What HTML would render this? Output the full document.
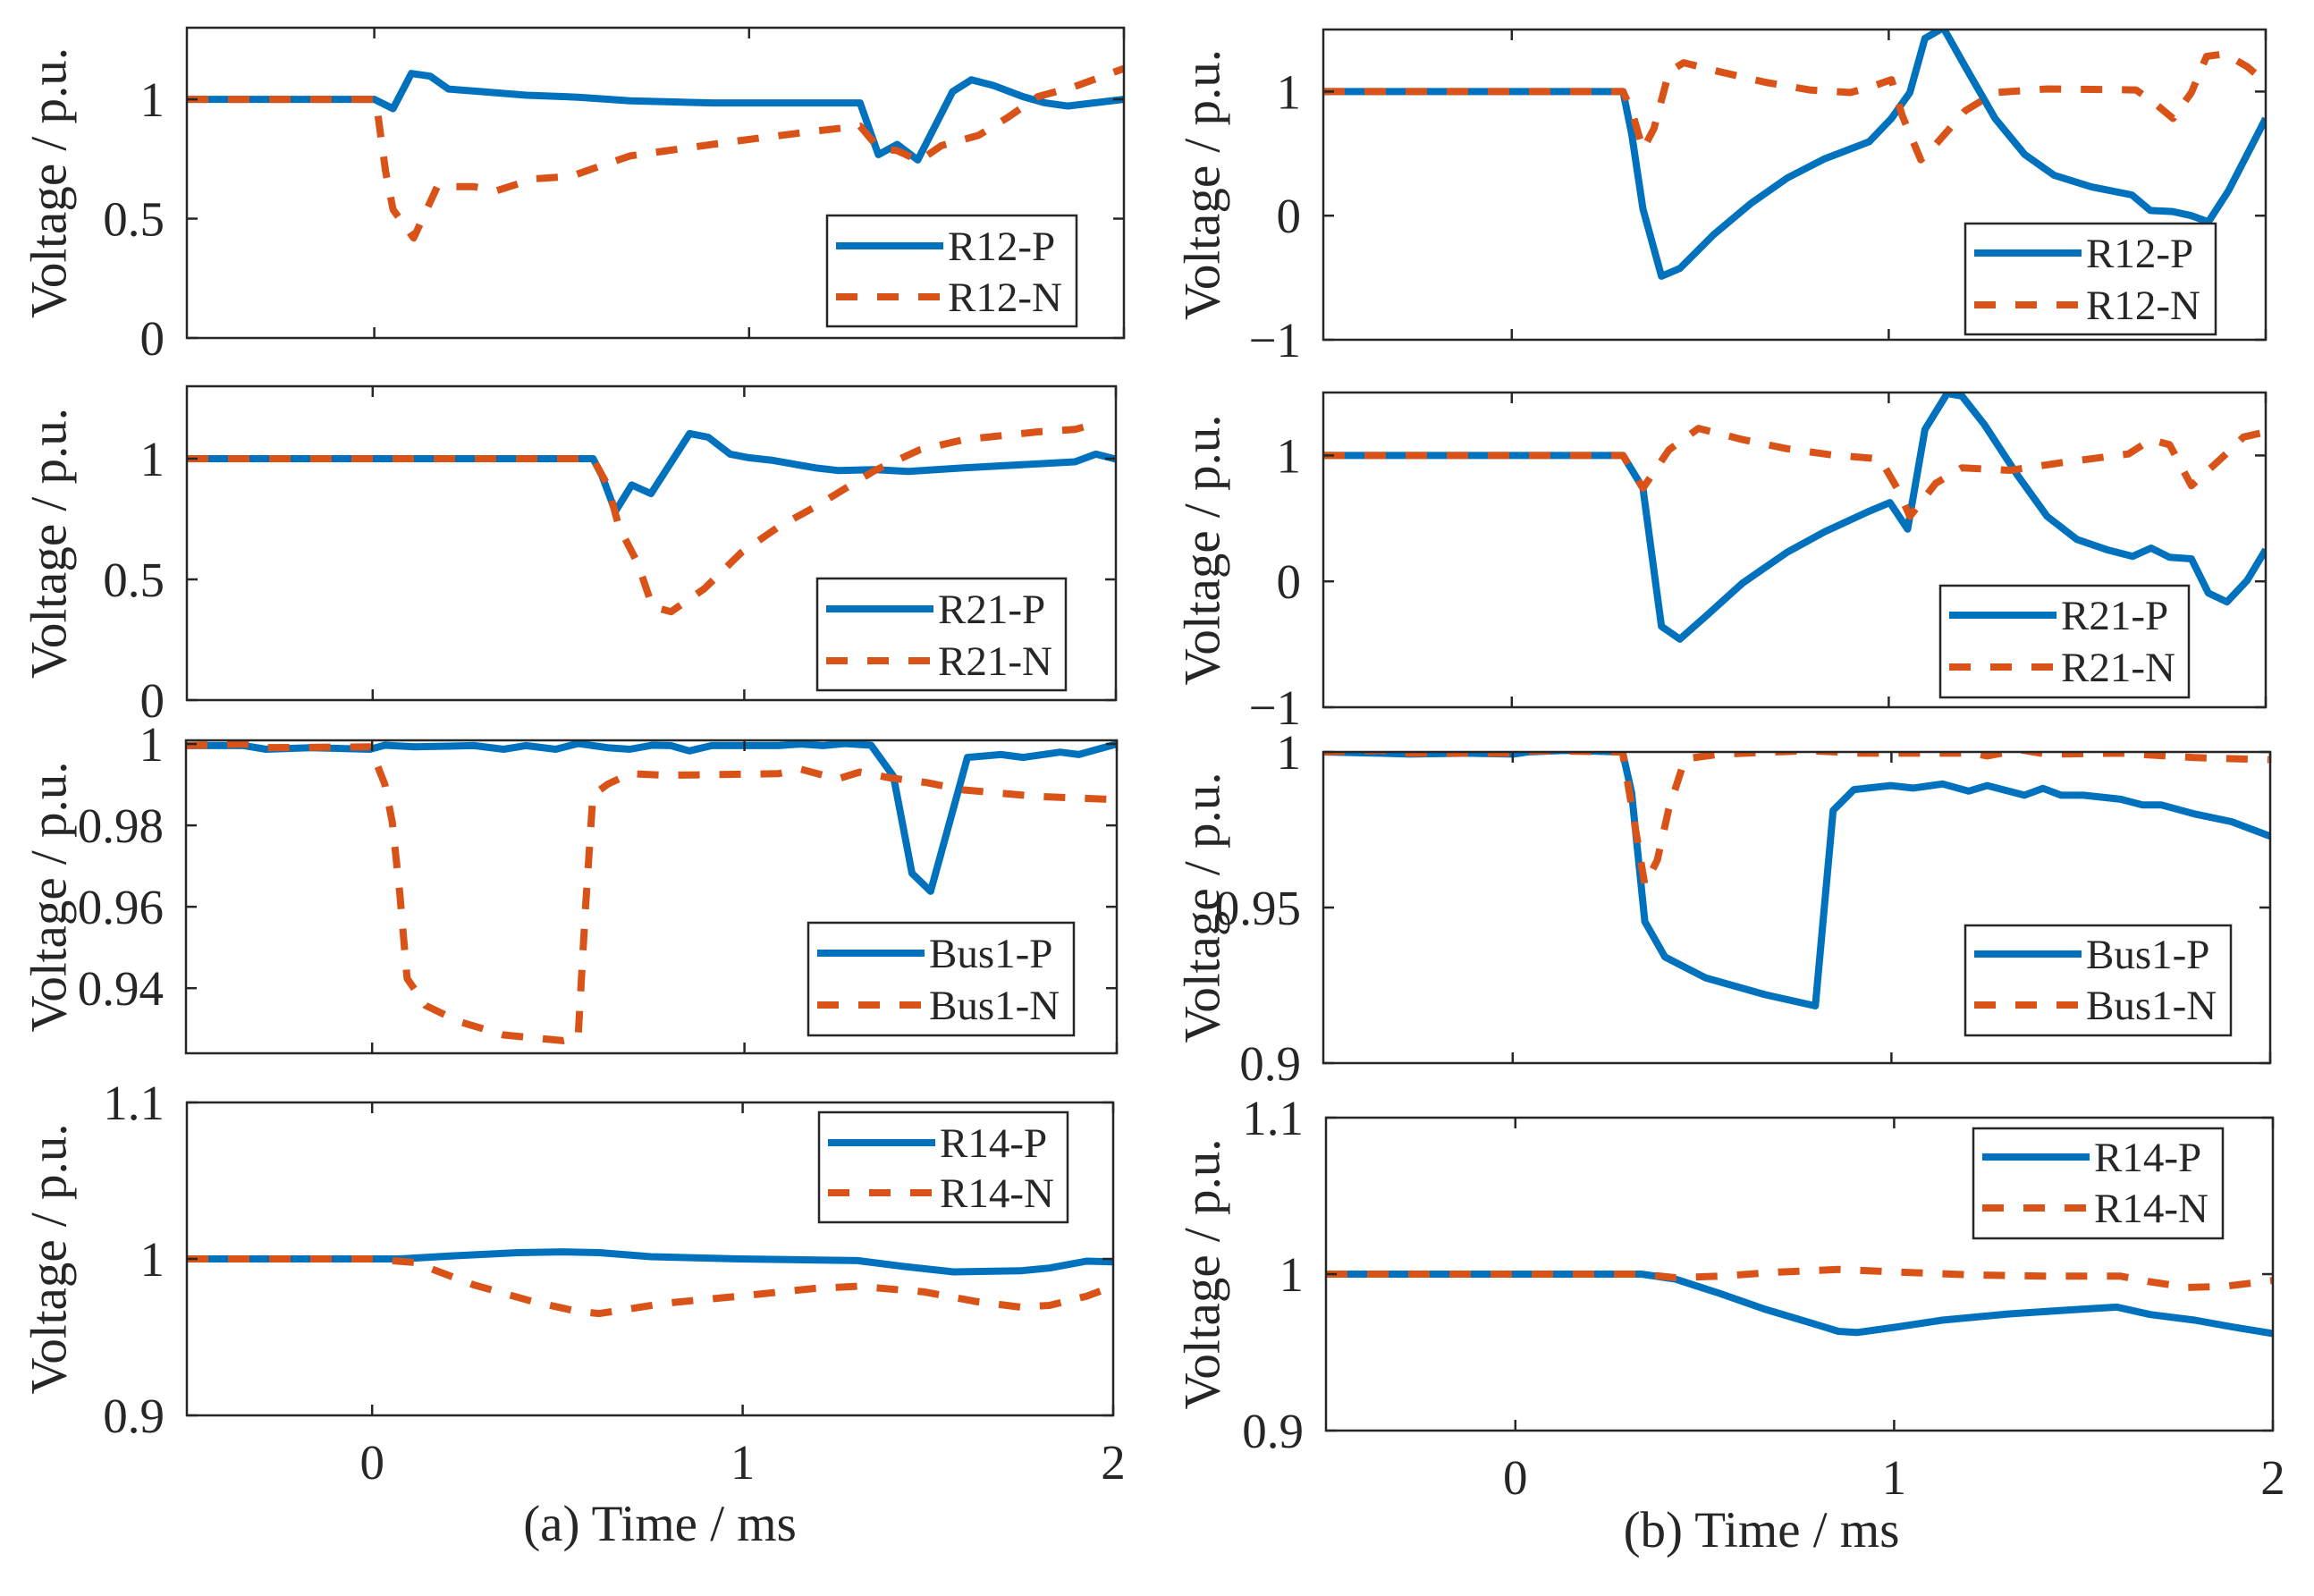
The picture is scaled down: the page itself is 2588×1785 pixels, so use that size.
<!DOCTYPE html>
<html><head><meta charset="utf-8">
<style>
html,body{margin:0;padding:0;background:#fff;}
svg{display:block;}
text{font-family:"Liberation Serif",serif;fill:#262626;}
</style></head>
<body>
<svg id="fig" width="2588" height="1785" viewBox="0 0 2588 1785" xmlns="http://www.w3.org/2000/svg">
<rect width="2588" height="1785" fill="#fff"/>
</svg>
<script>
// ---- data (time in ms, voltage in p.u.) ----
const a1P_t=[-0.5,0,0.05,0.099,0.149,0.198,0.287,0.406,0.544,0.683,0.90,1.296,1.345,1.395,1.45,1.543,1.593,1.652,1.731,1.79,1.85,1.909,2.0];
const a1P_v=[1,1,0.961,1.108,1.097,1.043,1.032,1.017,1.009,0.994,0.985,0.985,0.768,0.811,0.746,1.032,1.082,1.058,1.011,0.985,0.972,0.983,1.0];
const a1N_t=[-0.5,0.004,0.03,0.05,0.105,0.168,0.267,0.326,0.426,0.524,0.584,0.683,0.782,0.98,1.177,1.296,1.345,1.395,1.454,1.513,1.612,1.691,1.77,1.869,2.0];
const a1N_v=[1,1,0.699,0.538,0.419,0.634,0.634,0.617,0.667,0.677,0.71,0.763,0.785,0.828,0.867,0.888,0.796,0.785,0.742,0.806,0.849,0.925,1.011,1.054,1.129];

const a2P_t=[-0.5,0.593,0.617,0.653,0.697,0.749,0.853,0.903,0.962,1.012,1.072,1.192,1.252,1.351,1.441,1.591,1.89,1.946,2.0];
const a2P_v=[1,1,0.93,0.781,0.891,0.855,1.104,1.089,1.019,1.004,0.994,0.962,0.951,0.955,0.947,0.962,0.987,1.019,0.998];
const a2N_t=[-0.5,0.593,0.633,0.663,0.713,0.753,0.803,0.893,0.992,1.092,1.192,1.351,1.471,1.591,1.79,1.89,1.95];
const a2N_v=[1,1,0.887,0.717,0.568,0.387,0.366,0.462,0.611,0.717,0.802,0.951,1.036,1.079,1.111,1.121,1.147];

const a3P_t=[-0.5,-0.344,-0.285,-0.165,-0.006,0.034,0.114,0.274,0.353,0.413,0.493,0.553,0.632,0.692,0.752,0.802,0.852,0.912,1.091,1.151,1.211,1.270,1.340,1.4,1.45,1.5,1.599,1.689,1.749,1.848,1.898,2.0];
const a3P_v=[0.9996,0.9996,0.9987,0.9991,0.9987,0.9997,0.9993,0.9996,0.9987,0.9996,0.9987,1.0001,0.9991,0.9987,0.9997,0.9996,0.9983,0.9996,0.9996,1.0,0.9996,1.0001,0.9997,0.9921,0.9682,0.9638,0.9967,0.9974,0.9967,0.998,0.9974,1.0];
const a3N_t=[-0.5,-0.344,-0.285,-0.006,0.034,0.054,0.074,0.094,0.144,0.233,0.353,0.513,0.553,0.573,0.593,0.632,0.692,0.792,1.091,1.151,1.25,1.31,1.39,1.49,1.589,1.789,1.978];
const a3N_v=[0.9996,1.0,0.9991,0.9993,0.9901,0.9808,0.9636,0.9424,0.9357,0.9318,0.9285,0.9271,0.9278,0.9596,0.9874,0.9901,0.9927,0.9923,0.9927,0.9938,0.9914,0.9931,0.9917,0.9905,0.9887,0.9871,0.9864];

const a4P_t=[-0.5,0.074,0.234,0.393,0.513,0.613,0.752,0.991,1.31,1.43,1.569,1.749,1.828,1.928,2.0];
const a4P_v=[1,1,1.0022,1.004,1.0045,1.004,1.0014,1.0,0.9989,0.9953,0.9917,0.9924,0.9942,0.9986,0.9982];
const a4N_t=[-0.5,-0.006,0.114,0.274,0.433,0.553,0.613,0.792,0.991,1.191,1.31,1.49,1.629,1.749,1.828,1.928,2.0];
const a4N_v=[1,1,0.9978,0.9834,0.9728,0.9665,0.9651,0.9717,0.9762,0.9811,0.9825,0.9789,0.9728,0.9692,0.9703,0.9762,0.9825];

const b1P_t=[-0.5,0.295,0.318,0.348,0.397,0.446,0.535,0.633,0.731,0.83,0.948,1.007,1.056,1.096,1.145,1.203,1.282,1.361,1.439,1.537,1.645,1.694,1.753,1.803,1.848,1.901,2.0];
const b1P_v=[1,1,0.658,0.054,-0.488,-0.425,-0.154,0.096,0.304,0.458,0.596,0.783,0.992,1.429,1.513,1.2,0.783,0.492,0.325,0.233,0.167,0.042,0.033,0.0,-0.05,0.2,0.783];
const b1N_t=[-0.5,0.295,0.318,0.348,0.377,0.417,0.456,0.554,0.672,0.79,0.898,0.948,1.007,1.036,1.085,1.125,1.203,1.282,1.42,1.656,1.705,1.754,1.803,1.843,1.892,1.951,2.0];
const b1N_v=[1,1,0.846,0.533,0.7,1.158,1.233,1.158,1.075,1.013,0.992,1.033,1.096,0.804,0.45,0.575,0.846,0.992,1.021,1.013,0.908,0.783,0.992,1.283,1.304,1.2,1.075];

const b2P_t=[-0.5,0.295,0.348,0.367,0.397,0.446,0.515,0.613,0.731,0.83,0.948,1.003,1.05,1.096,1.155,1.194,1.253,1.342,1.42,1.499,1.578,1.647,1.696,1.745,1.803,1.848,1.897,1.951,2.0];
const b2P_v=[1,1,0.74,0.313,-0.358,-0.459,-0.276,-0.012,0.232,0.394,0.557,0.626,0.415,1.207,1.492,1.472,1.248,0.841,0.516,0.333,0.252,0.199,0.264,0.191,0.179,-0.093,-0.163,0.008,0.252];
const b2N_t=[-0.5,0.295,0.348,0.417,0.495,0.613,0.731,0.849,0.977,1.026,1.056,1.125,1.194,1.322,1.459,1.636,1.696,1.745,1.803,1.892,1.941,2.0];
const b2N_v=[1,1,0.74,1.045,1.215,1.126,1.053,1.004,0.972,0.72,0.516,0.78,0.902,0.882,0.943,1.012,1.126,1.085,0.76,1.004,1.146,1.187];

const b3P_t=[-0.5,-0.351,-0.272,-0.116,0.001,0.04,0.138,0.29,0.314,0.349,0.402,0.509,0.666,0.799,0.846,0.901,0.998,1.057,1.135,1.204,1.253,1.351,1.4,1.448,1.507,1.605,1.663,1.712,1.8,1.898,2.0];
const b3P_v=[1,0.9996,0.9993,0.9996,0.9993,1.0,1.0005,1.0,0.987,0.9455,0.9341,0.9274,0.922,0.9184,0.9812,0.9879,0.9892,0.9884,0.9897,0.9874,0.9892,0.9861,0.9883,0.9861,0.9861,0.9848,0.983,0.983,0.9801,0.9776,0.9729];
const b3N_t=[-0.5,-0.351,-0.272,0.001,0.059,0.29,0.323,0.349,0.382,0.412,0.455,0.549,0.783,0.92,1.214,1.253,1.341,1.409,1.605,1.8,1.996];
const b3N_v=[1,1.0005,0.9996,0.9996,1.0004,1.0,0.9762,0.9572,0.9653,0.9816,0.9978,0.9993,1.0004,0.9996,0.9996,0.9987,1.0007,0.9993,0.9996,0.9982,0.9975];

const b4P_t=[-0.5,0.333,0.422,0.539,0.657,0.775,0.853,0.902,1.01,1.127,1.304,1.461,1.588,1.676,1.794,1.892,2.0];
const b4P_v=[1,1,0.9968,0.9877,0.9777,0.9692,0.9634,0.9627,0.9663,0.9706,0.9746,0.9771,0.9789,0.9742,0.9706,0.9663,0.962];
const b4N_t=[-0.5,0.333,0.422,0.539,0.696,0.853,1.01,1.206,1.402,1.598,1.676,1.775,1.873,2.0];
const b4N_v=[1,1,0.9977,0.9987,1.0013,1.003,1.0013,0.9995,0.9987,0.9987,0.9951,0.9915,0.9922,0.9959];

const xTicks=[0,1,2];
const xTickLabels=["0","1","2"];
const seriesNames={a1:["R12-P","R12-N"],a2:["R21-P","R21-N"],a3:["Bus1-P","Bus1-N"],a4:["R14-P","R14-N"],
 b1:["R12-P","R12-N"],b2:["R21-P","R21-N"],b3:["Bus1-P","Bus1-N"],b4:["R14-P","R14-N"]};
const yTicksA1=[0,0.5,1], yTickLabelsA1=["0","0.5","1"];
const yTicksA3=[0.94,0.96,0.98,1], yTickLabelsA3=["0.94","0.96","0.98","1"];
const yTicksA4=[0.9,1,1.1], yTickLabelsA4=["0.9","1","1.1"];
const yTicksB1=[-1,0,1], yTickLabelsB1=["\u22121","0","1"];
const yTicksB3=[0.9,0.95,1], yTickLabelsB3=["0.9","0.95","1"];

// ---- layout ----
const panels=[
 {id:"a1",L:209,R:1257,T:31,B:378,y0:0,y1:1.3,yt:yTicksA1,yl:yTickLabelsA1,P:[a1P_t,a1P_v],N:[a1N_t,a1N_v],leg:[925,241,1204,365],lp:275,ln:332,xl:false},
 {id:"a2",L:209,R:1248,T:432,B:783,y0:0,y1:1.3,yt:yTicksA1,yl:yTickLabelsA1,P:[a2P_t,a2P_v],N:[a2N_t,a2N_v],leg:[914,647,1192,772],lp:681,ln:739,xl:false},
 {id:"a3",L:208,R:1249,T:828,B:1178,y0:0.924,y1:1.0009,yt:yTicksA3,yl:yTickLabelsA3,P:[a3P_t,a3P_v],N:[a3N_t,a3N_v],leg:[904,1032,1201,1158],lp:1066,ln:1124,xl:false},
 {id:"a4",L:209,R:1245,T:1233,B:1583,y0:0.9,y1:1.1,yt:yTicksA4,yl:yTickLabelsA4,P:[a4P_t,a4P_v],N:[a4N_t,a4N_v],leg:[916,1244,1194,1367],lp:1278,ln:1334,xl:true,xly:1635,title:"(a) Time / ms",tx:738,ty:1705},
 {id:"b1",L:1480,R:2534,T:33,B:380,y0:-1,y1:1.5,yt:yTicksB1,yl:yTickLabelsB1,P:[b1P_t,b1P_v],N:[b1N_t,b1N_v],leg:[2198,250,2478,374],lp:283,ln:341,xl:false},
 {id:"b2",L:1480,R:2534,T:439,B:791,y0:-1,y1:1.5,yt:yTicksB1,yl:yTickLabelsB1,P:[b2P_t,b2P_v],N:[b2N_t,b2N_v],leg:[2170,655,2448,780],lp:688,ln:746,xl:false},
 {id:"b3",L:1480,R:2539,T:841,B:1189,y0:0.9,y1:1.0,yt:yTicksB3,yl:yTickLabelsB3,P:[b3P_t,b3P_v],N:[b3N_t,b3N_v],leg:[2198,1035,2495,1158],lp:1067,ln:1124,xl:false},
 {id:"b4",L:1483,R:2542,T:1250,B:1600,y0:0.9,y1:1.1,yt:yTicksA4,yl:yTickLabelsA4,P:[b4P_t,b4P_v],N:[b4N_t,b4N_v],leg:[2207,1262,2486,1385],lp:1294,ln:1351,xl:true,xly:1652,title:"(b) Time / ms",tx:1970,ty:1712}
];
const NS="http://www.w3.org/2000/svg";
const svg=document.getElementById('fig');
function mk(tag,attrs,parent){const e=document.createElementNS(NS,tag);for(const k in attrs)e.setAttribute(k,attrs[k]);(parent||svg).appendChild(e);return e;}
const BLUE="#0072BD",ORANGE="#D95319",AX="#262626";

panels.forEach(p=>{
 const g=mk('g',{});
 
 
 const xs=t=>p.L+(t+0.5)/2.5*(p.R-p.L);
 const ys=v=>p.B-(v-p.y0)/(p.y1-p.y0)*(p.B-p.T);
 const cp=mk('clipPath',{id:'clip-'+p.id},g);
 mk('rect',{x:p.L,y:p.T,width:p.R-p.L,height:p.B-p.T},cp);
 const pathOf=(ts,vs)=>ts.map((t,i)=>(i?'L':'M')+xs(t).toFixed(1)+','+ys(vs[i]).toFixed(1)).join(' ');
 const sp=mk('path',{d:pathOf(p.P[0],p.P[1]),fill:'none',stroke:BLUE,'stroke-width':8,'stroke-linejoin':'round','clip-path':'url(#clip-'+p.id+')'},g);
 
 
 const sn=mk('path',{d:pathOf(p.N[0],p.N[1]),fill:'none',stroke:ORANGE,'stroke-width':8,'stroke-dasharray':'24 22','stroke-linejoin':'round','clip-path':'url(#clip-'+p.id+')'},g);
 
 
 const box=mk('rect',{x:p.L,y:p.T,width:p.R-p.L,height:p.B-p.T,fill:'none',stroke:AX,'stroke-width':2.5},g);
 
 
 xTicks.forEach((t,i)=>{
  const x=xs(t);
  mk('line',{x1:x,y1:p.B,x2:x,y2:p.B-12,stroke:AX,'stroke-width':2.5},g);
  mk('line',{x1:x,y1:p.T,x2:x,y2:p.T+12,stroke:AX,'stroke-width':2.5},g);
  if(p.xl){
   const tx=mk('text',{x:x,y:p.xly+19,'font-size':55,'text-anchor':'middle'},g);
   tx.textContent=xTickLabels[i];
   
   
  }
 });
 p.yt.forEach((v,i)=>{
  const y=ys(v);
  mk('line',{x1:p.L,y1:y,x2:p.L+12,y2:y,stroke:AX,'stroke-width':2.5},g);
  mk('line',{x1:p.R,y1:y,x2:p.R-12,y2:y,stroke:AX,'stroke-width':2.5},g);
  const ty=mk('text',{x:p.L-25,y:y+19,'font-size':55,'text-anchor':'end'},g);
  ty.textContent=p.yl[i];
  
  
 });
 const cx=p.id[0]==='a'?55:1345, cy=(p.T+p.B)/2;
 const yl=mk('text',{x:cx,y:cy,'font-size':57,'text-anchor':'middle',transform:'rotate(-90 '+cx+' '+cy+')','dominant-baseline':'central'},g);
 yl.textContent='Voltage / p.u.';
 
 
 const lg=mk('g',{},g);
 
 
 const [lx0,ly0,lx1,ly1]=p.leg;
 mk('rect',{x:lx0,y:ly0,width:lx1-lx0,height:ly1-ly0,fill:'#fff',stroke:AX,'stroke-width':2.5},lg);
 [[p.lp,BLUE,null,0],[p.ln,ORANGE,'24 22',1]].forEach(([yy,c,da,k])=>{
  const e=mk('g',{},lg);
  
  
  const ln=mk('line',{x1:lx0+10,y1:yy,x2:lx0+130,y2:yy,stroke:c,'stroke-width':8},e);
  if(da) ln.setAttribute('stroke-dasharray',da);
  const t=mk('text',{x:lx0+135,y:yy+16,'font-size':47},e);
  t.textContent=seriesNames[p.id][k];
 });
 if(p.title){
  const tt=mk('text',{x:p.tx,y:p.ty+18,'font-size':57,'text-anchor':'middle'},g);
  tt.textContent=p.title;
  
  
 }
});
</script>
</body></html>
